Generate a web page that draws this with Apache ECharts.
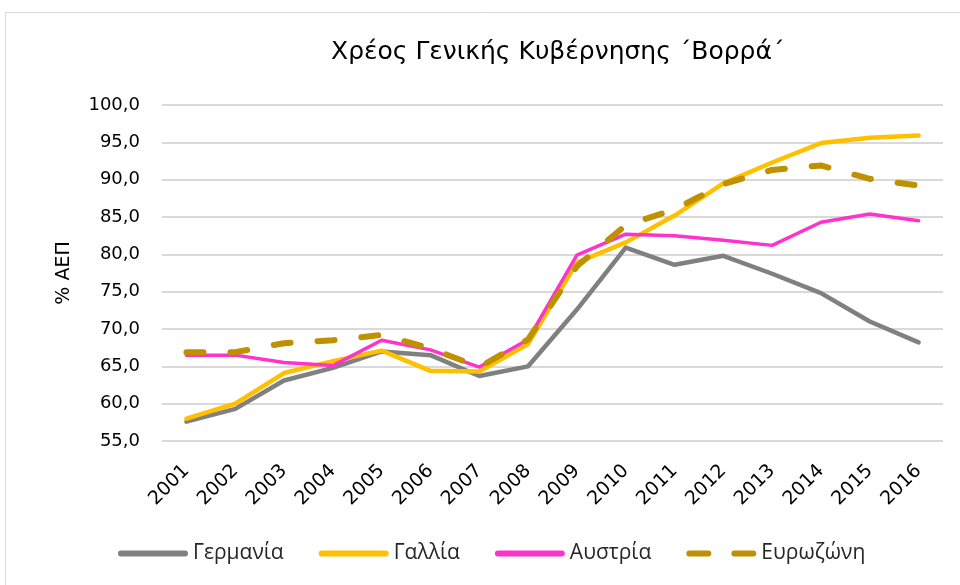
<!DOCTYPE html>
<html>
<head>
<meta charset="utf-8">
<script src="https://cdn.jsdelivr.net/npm/echarts@6/dist/echarts.min.js"></script>
<style>
  html, body { margin: 0; padding: 0; background: #fff; }
  #chart { width: 960px; height: 585px; }
</style>
</head>
<body>
<div id="chart"></div>
<script>
// years on the x axis
const years = ["2001", "2002", "2003", "2004", "2005", "2006", "2007", "2008",
  "2009", "2010", "2011", "2012", "2013", "2014", "2015", "2016"]

// debt as % of GDP
const germany = [57.6, 59.3, 63.1, 64.8, 67.0, 66.5, 63.7, 65.0, 72.6, 80.9, 78.6, 79.8, 77.4, 74.8, 71.0, 68.2]
const france = [58.0, 60.0, 64.1, 65.7, 67.1, 64.4, 64.3, 68.0, 78.9, 81.6, 85.2, 89.5, 92.3, 94.9, 95.6, 95.9]
const austria = [66.5, 66.5, 65.5, 65.1, 68.5, 67.2, 64.9, 68.6, 79.9, 82.7, 82.5, 81.9, 81.2, 84.3, 85.4, 84.5]
const eurozone = [66.9, 66.9, 68.1, 68.5, 69.2, 67.4, 64.9, 68.6, 78.4, 83.9, 86.0, 89.4, 91.3, 91.9, 90.1, 89.2]

// legend icons: a rounded bar, and two rounded dashes for the dashed series
const solidIcon = "path://M3,0h64a3,3 0 0 1 0,6h-64a3,3 0 0 1 0,-6z"
const dashIcon = "path://M3,0h19a3,3 0 0 1 0,6h-19a3,3 0 0 1 0,-6z M48,0h19a3,3 0 0 1 0,6h-19a3,3 0 0 1 0,-6z"

const chart = echarts.init(document.getElementById("chart"))

const lineSeries = (name, data, color, width, type) => ({
  name: name,
  type: "line",
  data: data,
  symbol: "none",
  lineStyle: { color: color, width: width, type: type || "solid", cap: "round", join: "round" },
  itemStyle: { color: color },
})

chart.setOption({
  backgroundColor: "#fff",
  animation: false,
  graphic: [
    {
      type: "rect",
      shape: { x: 5.5, y: 12.5, width: 1000, height: 1000 },
      style: { fill: "none", stroke: "#d9d9d9", lineWidth: 1 },
    },
  ],
  title: {
    text: "Χρέος Γενικής Κυβέρνησης ΄Βορρά΄",
    left: 326,
    top: 35,
    textStyle: { fontFamily: "DejaVu Sans", fontWeight: "normal", fontSize: 25, color: "#000" },
  },
  legend: {
    left: 113,
    top: 538,
    itemWidth: 70,
    itemHeight: 6,
    itemGap: 35,
    data: [
      { name: "Γερμανία", icon: solidIcon },
      { name: "Γαλλία", icon: solidIcon },
      { name: "Αυστρία", icon: solidIcon },
      { name: "Ευρωζώνη", icon: dashIcon },
    ],
    textStyle: { fontFamily: "Open Sans", fontSize: 21, color: "#262626" },
  },
  grid: { left: 162, right: 17, top: 105, bottom: 144 },
  xAxis: {
    type: "category",
    data: years,
    boundaryGap: true,
    axisLine: { show: false },
    axisTick: { show: false },
    axisLabel: { rotate: 45, fontFamily: "DejaVu Sans", fontSize: 19, color: "#000", margin: 27 },
  },
  yAxis: {
    type: "value",
    min: 55,
    max: 100,
    interval: 5,
    name: "% ΑΕΠ",
    nameLocation: "middle",
    nameGap: 88,
    nameRotate: 90,
    nameTextStyle: { fontFamily: "DejaVu Sans", fontSize: 19, color: "#000" },
    axisLine: { show: false },
    axisTick: { show: false },
    axisLabel: {
      fontFamily: "DejaVu Sans",
      fontSize: 18,
      color: "#000",
      margin: 22,
      formatter: (v) => v.toFixed(1).replace(".", ","),
    },
    splitLine: { lineStyle: { color: "#d9d9d9", width: 2 } },
  },
  series: [
    lineSeries("Γερμανία", germany, "#808080", 4.5),
    lineSeries("Γαλλία", france, "#ffc000", 4.5),
    lineSeries("Αυστρία", austria, "#ff33cc", 3.5),
    lineSeries("Ευρωζώνη", eurozone, "#bf9000", 6, [17, 27]),
  ],
})
</script>
</body>
</html>
